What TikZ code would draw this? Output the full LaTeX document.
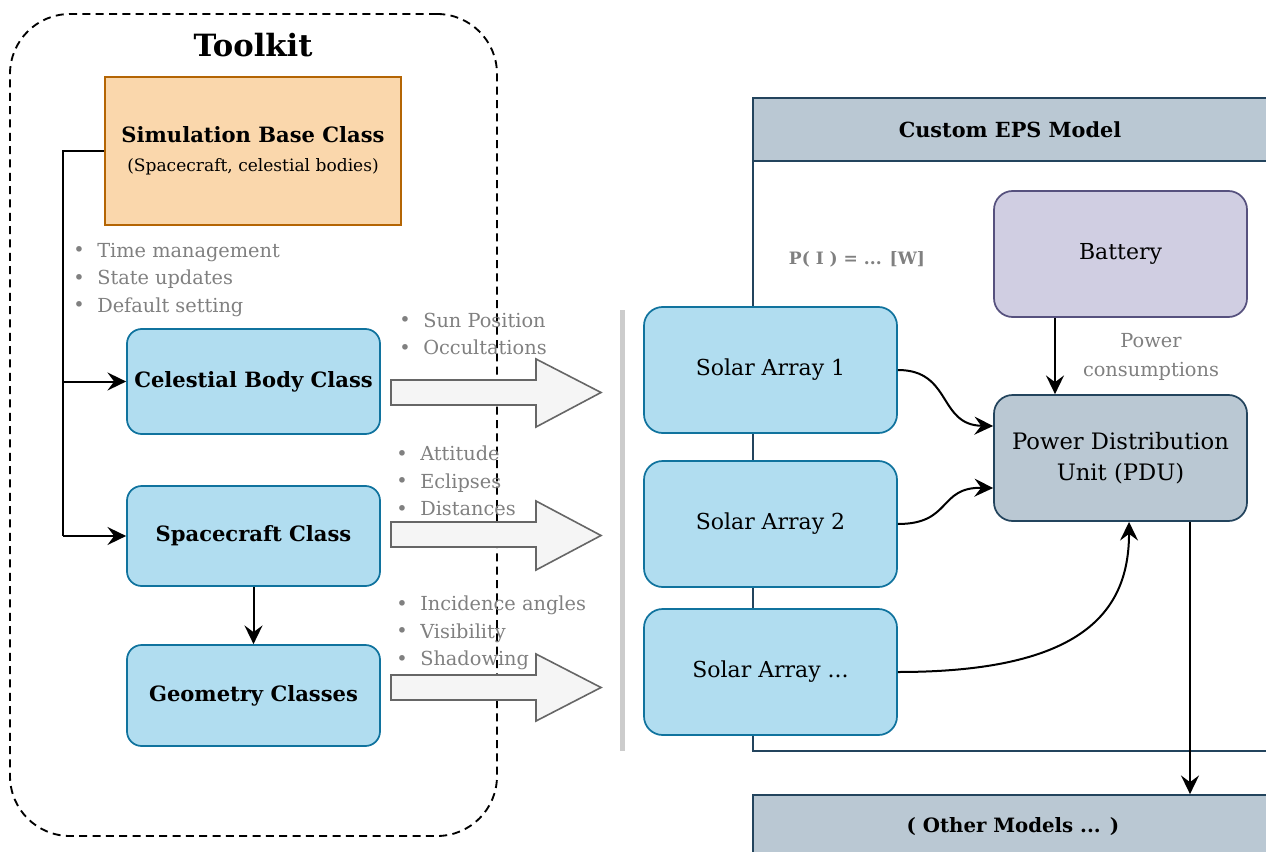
\documentclass[tikz,border=0pt]{standalone}
\usepackage{fontspec}
\setmainfont{DejaVu Serif}
\usetikzlibrary{arrows.meta}
\definecolor{peach}{HTML}{FAD7AC}
\definecolor{peachd}{HTML}{B46504}
\definecolor{blueA}{HTML}{B1DDF0}
\definecolor{blueAd}{HTML}{10739E}
\definecolor{slate}{HTML}{BAC8D3}
\definecolor{slated}{HTML}{23445D}
\definecolor{lav}{HTML}{D0CEE2}
\definecolor{lavd}{HTML}{56517E}
\definecolor{txtgray}{HTML}{808080}
\definecolor{arrfill}{HTML}{F5F5F5}
\definecolor{arrdraw}{HTML}{666666}
\tikzset{
  cls/.style={draw=blueAd, fill=blueA, line width=1.3pt, rounded corners=11pt,
    minimum width=189.75pt, font=\bfseries\fontsize{15.8}{18}\selectfont},
  sabox/.style={draw=blueAd, fill=blueA, line width=1.3pt, rounded corners=14pt,
    minimum width=189.75pt, minimum height=94.5pt, font=\fontsize{16.5}{19}\selectfont},
  conn/.style={line width=1.5pt, -{Stealth[length=14pt,width=13.5pt,inset=5pt]}},
  bullets/.style={anchor=west, align=left, text=txtgray, inner sep=0pt,
    font=\fontsize{14.5}{20.6}\selectfont},
  bigarrow/.style={fill=arrfill, draw=arrdraw, line width=1.2pt},
}
\newcommand{\bul}{\makebox[18pt][l]{\raisebox{0.5pt}{\textbullet}}}
\begin{document}
\begin{tikzpicture}[x=0.75pt,y=-0.75pt]
\useasboundingbox (0,0) rectangle (1266,852);
\clip (0,0) rectangle (1266,852);
% Toolkit container
\node[draw, dash pattern=on 6pt off 4pt, line width=1.4pt, rounded corners=45pt, minimum width=365.25pt,
  minimum height=616.5pt, inner sep=0pt] (tk) at (253.5,425) {};
\node[font=\bfseries\fontsize{23}{26}\selectfont] (tktitle) at (253,45) {Toolkit};
% Custom EPS container
\node[draw=slated, fill=white, line width=1.3pt, minimum width=402.75pt, minimum height=489.75pt,
  inner sep=0pt] (eps) at (1021.5,424.5) {};
\node[draw=slated, fill=slate, line width=1.3pt, minimum width=402.75pt, minimum height=47.25pt,
  inner sep=0pt] (epshead) at (1021.5,129.5) {};
\node[font=\bfseries\fontsize{15.6}{18}\selectfont] (epstitle) at (1010,130) {Custom EPS Model};
% Other models
\node[draw=slated, fill=slate, line width=1.3pt, minimum width=402.75pt, minimum height=75pt,
  inner sep=0pt] (other) at (1021.5,845) {};
\node[font=\bfseries\fontsize{14.8}{17}\selectfont] (othertitle) at (1013,827) {( Other Models ... )};
% gray separator
\draw[line width=3.75pt, color=black!20] (622,310) -- (622,751);
% simulation base class
\node[draw=peachd, fill=peach, line width=1.3pt, minimum width=222pt, minimum height=111pt,
  align=center, inner sep=0pt] (sim) at (253,151)
  {\bfseries\fontsize{15.8}{18}\selectfont Simulation Base Class\\[10pt]
   \fontsize{12.8}{15}\selectfont (Spacecraft, celestial bodies)};
\node[cls, minimum height=78.75pt] (cel) at (253.5,381.5) {Celestial Body Class};
\node[cls, minimum height=75pt] (sc) at (253.5,536) {Spacecraft Class};
\node[cls, minimum height=75.75pt] (geo) at (253.5,695.5) {Geometry Classes};
% bullets
\node[bullets] (b1) at (73,280) {\bul Time management\\\bul State updates\\\bul Default setting};
\node[bullets] (b2) at (399,334) {\bul Sun Position\\\bul Occultations};
\node[bullets] (b3) at (396,481) {\bul Attitude\\\bul Eclipses\\\bul Distances};
\node[bullets] (b4) at (396,633) {\bul Incidence angles\\\bul Visibility\\\bul Shadowing};
% big arrows
\draw[bigarrow] (391,380) -- (536,380) -- (536,359) -- (601,392.5) -- (536,427) -- (536,405) -- (391,405) -- cycle;
\draw[bigarrow] (391,522) -- (536,522) -- (536,501) -- (601,535.5) -- (536,570) -- (536,547) -- (391,547) -- cycle;
\draw[bigarrow] (391,675) -- (536,675) -- (536,654) -- (601,687.5) -- (536,721) -- (536,700) -- (391,700) -- cycle;
% left connectors
\coordinate (lx) at (63,0);
\draw[line width=1.5pt] (sim.west) -| (lx |- sc.west);
\draw[conn] (lx |- sc.west) -- (sc.west);
\draw[conn] (lx |- cel.west) -- (cel.west);
\draw[conn] (sc) -- (geo);
% EPS internals
\node[sabox] (sa1) at (770.5,370) {Solar Array 1};
\node[sabox] (sa2) at (770.5,524) {Solar Array 2};
\node[sabox] (sa3) at (770.5,672) {Solar Array ...};
\node[draw=lavd, fill=lav, line width=1.3pt, rounded corners=14pt, minimum width=189.75pt,
  minimum height=94.5pt, font=\fontsize{16.5}{19}\selectfont] (bat) at (1120.5,254) {Battery};
\node[draw=slated, fill=slate, line width=1.3pt, rounded corners=14pt, minimum width=189.75pt,
  minimum height=94.5pt, align=center, font=\fontsize{17}{23}\selectfont] (pdu) at (1120.5,458)
  {Power Distribution\\Unit (PDU)};
\node[text=txtgray, font=\bfseries\fontsize{12.8}{14}\selectfont] (peq) at (857,259) {P( I ) = ... [W]};
\node[text=txtgray, align=center, font=\fontsize{14.5}{22}\selectfont] (pc) at (1151,357) {Power\\consumptions};
\coordinate (bx) at (1055,0);
\draw[conn] (bat.south -| bx) -- (pdu.north -| bx);
\draw[conn] (sa1.east) .. controls (952,370) and (938,425) .. ([yshift=24pt]pdu.west);
\draw[conn] (sa2.east) .. controls (952,524) and (938,487) .. ([yshift=-22.5pt]pdu.west);
\draw[conn] (sa3.east) .. controls (1085,672) and (1129,610) .. ([xshift=6.4pt]pdu.south);
\coordinate (ox) at (1190,0);
\draw[conn] (pdu.south -| ox) -- (other.north -| ox);
\end{tikzpicture}
\end{document}
